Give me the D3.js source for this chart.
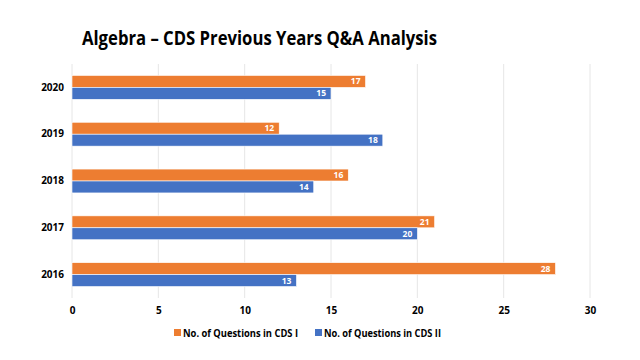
<!DOCTYPE html>
<html><head><meta charset="utf-8">
<script src="https://cdn.jsdelivr.net/npm/d3@7"></script>
<style>body{margin:0;background:#fff}svg{display:block}</style>
</head><body><svg id="c" width="640" height="360"></svg>
<script>
const years = ["2020","2019","2018","2017","2016"];
const cds1 = [17,12,16,21,28];
const cds2 = [15,18,14,20,13];
const seriesNames = ["No. of Questions in CDS I","No. of Questions in CDS II"];
const xTicks = [0,5,10,15,20,25,30];
const colors = ["#ED7D31","#4472C4"];

const svg = d3.select("#c");
const font = "'Open Sans', sans-serif";
svg.append("text").attr("x",82).attr("y",45).attr("font-family",font)
  .attr("font-weight",700).attr("font-size",19).attr("fill","#000")
  .attr("textLength",355).attr("lengthAdjust","spacingAndGlyphs")
  .text("Algebra – CDS Previous Years Q&A Analysis");

const x = d3.scaleLinear().domain([0,30]).range([72,590]);
const y = d3.scaleBand().domain(years).range([64,298]).paddingInner(0.49).paddingOuter(0.245);
const sub = d3.scaleBand().domain([0,1]).range([0,y.bandwidth()]);

const grid = svg.append("g");
grid.selectAll("line").data(xTicks).join("line")
  .attr("x1",d=>x(d)).attr("x2",d=>x(d)).attr("y1",64).attr("y2",298)
  .attr("stroke","#e6e6e6").attr("stroke-width",1);

const xAxis = svg.append("g").attr("transform","translate(0,298)")
  .call(d3.axisBottom(x).tickValues(xTicks).tickSize(0).tickPadding(9));
xAxis.select(".domain").remove();
xAxis.selectAll("text").attr("font-family",font).attr("font-weight",700).attr("font-size",10).attr("fill","#000");

const yAxis = svg.append("g").attr("transform","translate(72,0)")
  .call(d3.axisLeft(y).tickSize(0).tickPadding(8));
yAxis.select(".domain").remove();
yAxis.selectAll("text").attr("font-family",font).attr("font-weight",700).attr("font-size",10).attr("fill","#000");

const data = [cds1,cds2];
data.forEach((vals,si)=>{
  const g = svg.append("g");
  g.selectAll("rect").data(years).join("rect")
    .attr("x",x(0)).attr("y",(d)=>y(d)+sub(si))
    .attr("width",(d,i)=>x(vals[i])-x(0)).attr("height",sub.bandwidth())
    .attr("fill",colors[si]).attr("stroke","#fff").attr("stroke-width",0.6);
  g.selectAll("text").data(years).join("text")
    .attr("x",(d,i)=>x(vals[i])-5).attr("y",(d)=>y(d)+sub(si)+sub.bandwidth()/2)
    .attr("dy","0.35em").attr("text-anchor","end")
    .attr("font-family",font).attr("font-weight",700).attr("font-size",8.5).attr("fill","#fff")
    .text((d,i)=>vals[i]);
});

const leg = svg.append("g");
const legX = [174,315];
const legW = [115,117];
seriesNames.forEach((n,i)=>{
  leg.append("rect").attr("x",legX[i]).attr("y",329).attr("width",7).attr("height",7).attr("fill",colors[i]);
  leg.append("text").attr("x",legX[i]+9).attr("y",333).attr("dy","0.35em")
    .attr("font-family",font).attr("font-weight",700).attr("font-size",10).attr("fill","#000")
    .attr("textLength",legW[i]).attr("lengthAdjust","spacingAndGlyphs").text(n);
});
</script></body></html>
